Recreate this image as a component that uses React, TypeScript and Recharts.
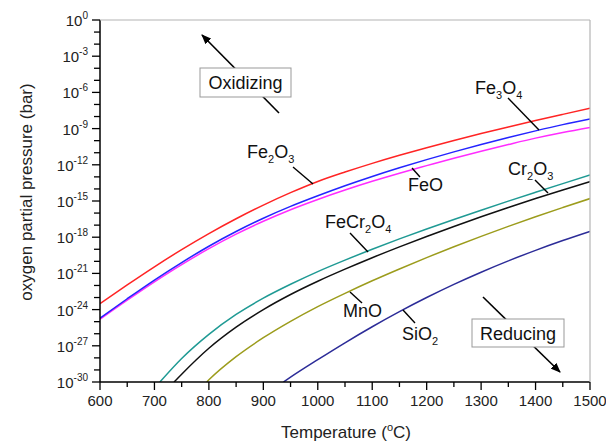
import React from "react";
import { Line, LineChart, XAxis, YAxis } from "recharts";

const FONT = "Arial, 'Liberation Sans', Helvetica, sans-serif";

// temperatures (°C) and log10(pO2 / bar)
const IRON_TEMPS = [600, 650, 700, 750, 800, 850, 900, 950, 1000, 1050, 1100, 1150, 1200, 1250, 1300, 1350, 1400, 1450, 1500];
const FE2O3 = [-23.5, -21.95, -20.45, -19.03, -17.7, -16.47, -15.34, -14.31, -13.38, -12.6, -11.88, -11.21, -10.58, -9.98, -9.41, -8.86, -8.33, -7.82, -7.32];
const FE3O4 = [-24.7, -23.1, -21.55, -20.1, -18.75, -17.53, -16.43, -15.45, -14.57, -13.74, -12.97, -12.25, -11.57, -10.93, -10.32, -9.74, -9.19, -8.67, -8.2];
const FEO = [-24.8, -23.22, -21.7, -20.27, -18.95, -17.75, -16.68, -15.72, -14.87, -14.09, -13.37, -12.7, -12.07, -11.45, -10.87, -10.32, -9.79, -9.32, -8.9];

const FECR2O4_TEMPS = [710, 750, 800, 850, 900, 950, 1000, 1050, 1100, 1150, 1200, 1250, 1300, 1350, 1400, 1450, 1500];
const FECR2O4 = [-30, -28.05, -26.05, -24.4, -23.05, -21.9, -20.85, -19.9, -19.0, -18.14, -17.32, -16.53, -15.76, -15.01, -14.28, -13.56, -12.85];

const CR2O3_TEMPS = [736, 750, 800, 850, 900, 950, 1000, 1050, 1100, 1150, 1200, 1250, 1300, 1350, 1400, 1450, 1500];
const CR2O3 = [-30, -29.35, -27.2, -25.45, -24.0, -22.75, -21.65, -20.65, -19.7, -18.8, -17.94, -17.11, -16.31, -15.54, -14.8, -14.09, -13.4];

const MNO_TEMPS = [796, 800, 850, 900, 950, 1000, 1050, 1100, 1150, 1200, 1250, 1300, 1350, 1400, 1450, 1500];
const MNO = [-30, -29.82, -27.9, -26.33, -24.97, -23.75, -22.65, -21.61, -20.63, -19.69, -18.79, -17.93, -17.1, -16.3, -15.54, -14.8];

const SIO2_TEMPS = [937, 950, 1000, 1050, 1100, 1150, 1200, 1250, 1300, 1350, 1400, 1450, 1500];
const SIO2 = [-30, -29.6, -28.15, -26.75, -25.42, -24.17, -23.0, -21.91, -20.9, -19.96, -19.09, -18.28, -17.52];

const X_TICKS = [600, 650, 700, 750, 800, 850, 900, 950, 1000, 1050, 1100, 1150, 1200, 1250, 1300, 1350, 1400, 1450, 1500];
const Y_TICKS = [-30, -29, -28, -27, -26, -25, -24, -23, -22, -21, -20, -19, -18, -17, -16, -15, -14, -13, -12, -11, -10, -9, -8, -7, -6, -5, -4, -3, -2, -1, 0];

const toPoints = (temps: number[], vals: number[]) => temps.map((t, i) => ({ t, p: vals[i] }));

const SERIES = [
  { name: "FeCr2O4", color: "#1f9a94", points: toPoints(FECR2O4_TEMPS, FECR2O4) },
  { name: "Cr2O3", color: "#111111", points: toPoints(CR2O3_TEMPS, CR2O3) },
  { name: "MnO", color: "#9c9c1c", points: toPoints(MNO_TEMPS, MNO) },
  { name: "SiO2", color: "#2c2c98", points: toPoints(SIO2_TEMPS, SIO2) },
  { name: "FeO", color: "#ff2cff", points: toPoints(IRON_TEMPS, FEO) },
  { name: "Fe3O4", color: "#2424ff", points: toPoints(IRON_TEMPS, FE3O4) },
  { name: "Fe2O3", color: "#ff2424", points: toPoints(IRON_TEMPS, FE2O3) },
];

function XTick({ x, y, payload }: any) {
  const major = payload.value % 100 === 0;
  return (
    <g>
      <line x1={x} x2={x} y1={y} y2={y + (major ? 8 : 5)} stroke="#000" strokeWidth={1.3} />
      {major && (
        <text x={x} y={y + 24} textAnchor="middle" fontSize={15} fill="#222" fontFamily={FONT}>
          {payload.value}
        </text>
      )}
    </g>
  );
}

function YTick({ x, y, payload }: any) {
  const major = payload.value % 3 === 0;
  return (
    <g>
      <line x1={x} x2={x - (major ? 8 : 6)} y1={y} y2={y} stroke="#000" strokeWidth={1.3} />
      {major && (
        <text x={x - 12} y={y + 6} textAnchor="end" fontSize={15} fill="#222" fontFamily={FONT}>
          <tspan>10</tspan>
          <tspan dy={-7} fontSize={10}>{payload.value === 0 ? "0" : `-${-payload.value}`}</tspan>
        </text>
      )}
    </g>
  );
}

function Chem({ x, y, parts }: { x: number; y: number; parts: [string, string][] }) {
  // parts: [normal, subscript]
  return (
    <text x={x} y={y} fontSize={18} fill="#111" fontFamily={FONT}>
      {parts.map(([n, s], i) => (
        <React.Fragment key={i}>
          <tspan dy={i === 0 ? 0 : -5} fontSize={18}>{n}</tspan>
          {s && <tspan dy={5} fontSize={11}>{s}</tspan>}
        </React.Fragment>
      ))}
    </text>
  );
}

export default function App() {
  return (
    <div style={{ position: "relative", width: 606, height: 444, background: "#fff", fontFamily: FONT }}>
      <style>{"body{margin:0}"}</style>
      <LineChart width={606} height={444} margin={{ top: 20, right: 16, bottom: 0, left: 0 }}>
        <XAxis
          dataKey="t"
          type="number"
          domain={[600, 1500]}
          ticks={X_TICKS}
          interval={0}
          height={62}
          tickSize={0}
          tickMargin={0}
          tickLine={false}
          axisLine={{ stroke: "#000", strokeWidth: 1.5 }}
          tick={(props: any) => <XTick {...props} />}
          allowDataOverflow
        />
        <YAxis
          type="number"
          domain={[-30, 0]}
          ticks={Y_TICKS}
          interval={0}
          width={100}
          tickSize={0}
          tickMargin={0}
          tickLine={false}
          axisLine={{ stroke: "#000", strokeWidth: 1.5 }}
          tick={(props: any) => <YTick {...props} />}
          allowDataOverflow
        />
        {SERIES.map((s) => (
          <Line
            key={s.name}
            data={s.points}
            dataKey="p"
            type="monotone"
            stroke={s.color}
            strokeWidth={1.5}
            dot={false}
            activeDot={false}
            isAnimationActive={false}
          />
        ))}
      </LineChart>

      <svg width={606} height={444} style={{ position: "absolute", left: 0, top: 0, pointerEvents: "none" }}>
        <defs>
          <marker id="head" markerWidth="10" markerHeight="8" refX="9" refY="4" orient="auto" markerUnits="userSpaceOnUse">
            <path d="M0,0 L10,4 L0,8 Z" fill="#000" />
          </marker>
        </defs>
        {/* frame */}
        <line x1={100} x2={590} y1={20} y2={20} stroke="#b4b4b4" strokeWidth={1.2} />
        <line x1={590} x2={590} y1={20} y2={382} stroke="#b4b4b4" strokeWidth={1.2} />

        {/* arrows */}
        <line x1={279} y1={113} x2={202} y2={35} stroke="#000" strokeWidth={1.6} markerEnd="url(#head)" />
        <line x1={483} y1={297} x2={560} y2={372} stroke="#000" strokeWidth={1.6} markerEnd="url(#head)" />
        <rect x={200} y={68} width={91} height={29} fill="#fff" stroke="#999" strokeWidth={1} />
        <text x={245.5} y={89} textAnchor="middle" fontSize={18} fill="#111" fontFamily={FONT}>Oxidizing</text>
        <rect x={472} y={319} width={92} height={28} fill="#fff" stroke="#999" strokeWidth={1} />
        <text x={518} y={340} textAnchor="middle" fontSize={18} fill="#111" fontFamily={FONT}>Reducing</text>

        {/* leader lines */}
        <g stroke="#000" strokeWidth={1.4}>
          <line x1={293} y1={167} x2={313} y2={184} />
          <line x1={508} y1={98} x2={539} y2={130} />
          <line x1={412} y1={168} x2={420} y2={177} />
          <line x1={535} y1={180} x2={548} y2={193} />
          <line x1={350} y1={233} x2={368} y2={252} />
          <line x1={350} y1={292} x2={362} y2={303} />
          <line x1={403} y1={310} x2={415} y2={323} />
        </g>

        <Chem x={247} y={158} parts={[["Fe", "2"], ["O", "3"]]} />
        <Chem x={475} y={94} parts={[["Fe", "3"], ["O", "4"]]} />
        <Chem x={408} y={191} parts={[["FeO", ""]]} />
        <Chem x={508} y={175} parts={[["Cr", "2"], ["O", "3"]]} />
        <Chem x={325} y={228} parts={[["FeCr", "2"], ["O", "4"]]} />
        <Chem x={343} y={317} parts={[["MnO", ""]]} />
        <Chem x={402} y={340} parts={[["SiO", "2"]]} />

        {/* axis titles */}
        <text x={346} y={438} textAnchor="middle" fontSize={17} fill="#222" fontFamily={FONT}>
          <tspan>Temperature (</tspan>
          <tspan dy={-7} fontSize={11}>o</tspan>
          <tspan dy={7}>C)</tspan>
        </text>
        <text
          transform="translate(32,192) rotate(-90)"
          textAnchor="middle"
          fontSize={17}
          fill="#222"
          fontFamily={FONT}
        >
          oxygen partial pressure (bar)
        </text>
      </svg>
    </div>
  );
}
